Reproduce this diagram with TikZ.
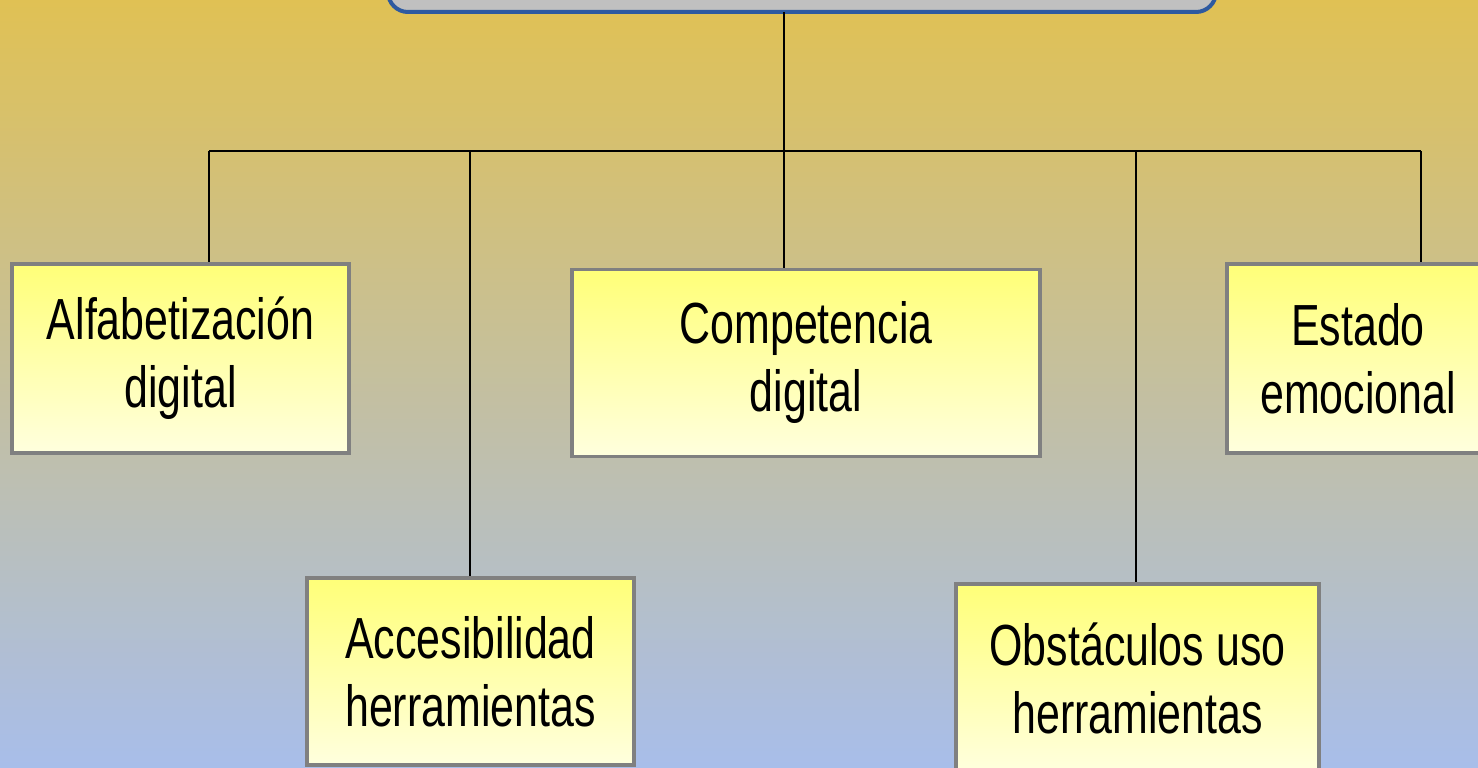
\documentclass[tikz,border=0pt]{standalone}
\usepackage{fontspec}
\setmainfont{Liberation Sans}[FakeStretch=0.74]
\definecolor{bgtop}{RGB}{224,193,84}
\definecolor{bgmid}{RGB}{203,194,150}
\definecolor{bgbot}{RGB}{168,190,234}
\definecolor{boxtop}{RGB}{255,255,120}
\definecolor{boxbot}{RGB}{255,255,222}
\definecolor{boxline}{RGB}{128,128,128}
\definecolor{rootfill}{RGB}{192,192,192}
\definecolor{rootline}{RGB}{46,90,160}
\tikzset{
  tema/.style={rectangle, draw=boxline, line width=3.5pt, top color=boxtop, bottom color=boxbot,
    align=center, inner sep=0pt, font=\fontsize{58}{68}\selectfont},
  rama/.style={line width=1.8pt, black}
}
\begin{document}
\begin{tikzpicture}[x=1pt,y=-1pt]
    \useasboundingbox (0,0) rectangle (1478,768);
    \clip (0,0) rectangle (1478,768);
    \shade[top color=bgtop, middle color=bgmid, bottom color=bgbot] (0,0) rectangle (1478,768);

    \node[draw=rootline, line width=4pt, fill=rootfill, rounded corners=20pt,
          minimum width=828pt, minimum height=90pt] (raiz) at (802,-33) {};

    \coordinate (t) at (784,12);
    \coordinate (b1) at (209,151);
    \coordinate (b2) at (470,151);
    \coordinate (b3) at (784,151);
    \coordinate (b4) at (1136,151);
    \coordinate (b5) at (1421,151);

    \node[tema, minimum width=337pt, minimum height=189pt] (alfa) at (180.5,358.5) {Alfabetización\\digital};
    \node[tema, minimum width=327pt, minimum height=187pt] (acce) at (470.5,671.5) {Accesibilidad\\herramientas};
    \node[tema, minimum width=468pt, minimum height=187pt] (comp) at (806,363) {Competencia\\digital};
    \node[tema, minimum width=363pt, minimum height=188pt] (obst) at (1137.5,678) {Obstáculos uso\\herramientas};
    \node[tema, minimum width=262pt, minimum height=189pt] (esta) at (1358,358.5) {Estado\\emocional};

    \draw[rama] (t) -- (b3);
    \draw[rama] (b1) -- (b5);
    \draw[rama] (b1) -- (b1 |- alfa.north);
    \draw[rama] (b2) -- (b2 |- acce.north);
    \draw[rama] (b3) -- (b3 |- comp.north);
    \draw[rama] (b4) -- (b4 |- obst.north);
    \draw[rama] (b5) -- (b5 |- esta.north);
\end{tikzpicture}
\end{document}
